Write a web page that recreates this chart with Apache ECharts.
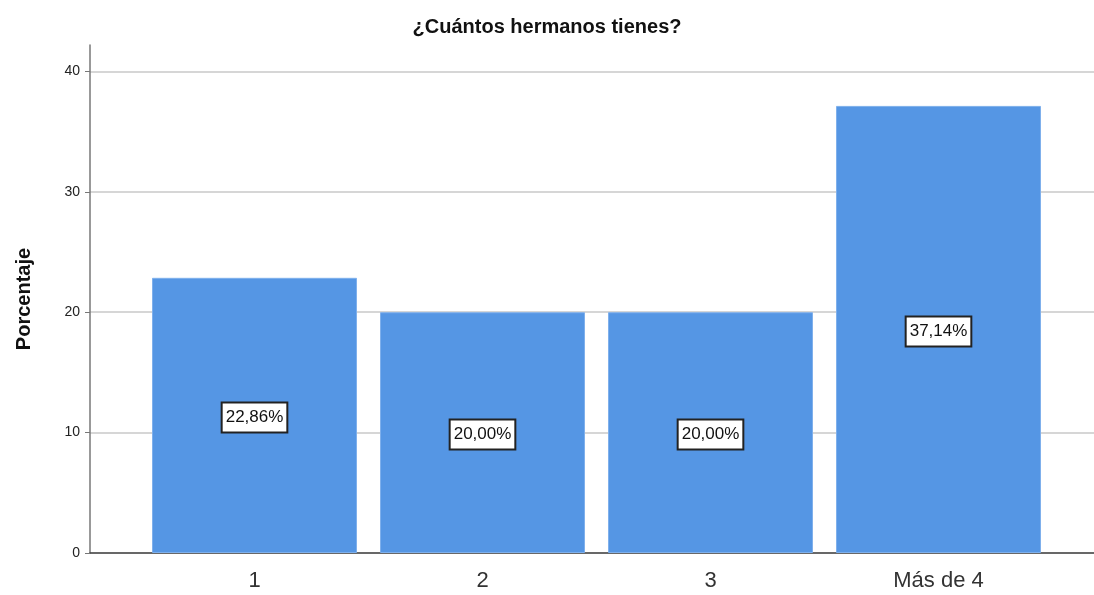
<!DOCTYPE html>
<html><head><meta charset="utf-8">
<script src="https://cdn.jsdelivr.net/npm/echarts@6/dist/echarts.min.js"></script>
<style>html,body{margin:0;padding:0;background:#fff}#c{width:1094px;height:595px}</style>
</head><body><div id="c"></div>
<script>
const categories = ['1', '2', '3', 'Más de 4'];
const percentages = [22.86, 20.00, 20.00, 37.14];
const yTicks = [0, 10, 20, 30, 40];
const titleText = '¿Cuántos hermanos tienes?';
const yName = 'Porcentaje';

const FONT = '"Liberation Sans", Arial, sans-serif';
const YMAX = 42.2;
const chart = echarts.init(document.getElementById('c'));
chart.setOption({
  animation: false,
  title: {text: titleText, left: 'center', top: 12,
    textStyle: {fontFamily: FONT, fontSize: 20, fontWeight: 'bold', color: '#111'}},
  grid: [
    {left: 90, right: 0, top: 45, bottom: 42},
    {left: 140.5, right: 41.5, top: 45, bottom: 42}
  ],
  xAxis: [
    {type: 'value', gridIndex: 0, min: 0, max: 1, axisLabel: {show: false}, axisTick: {show: false},
      splitLine: {show: false}, axisLine: {show: true, onZero: false, lineStyle: {color: '#444', width: 1.5}}},
    {type: 'category', gridIndex: 1, data: categories, axisLine: {show: false}, axisTick: {show: false},
      axisLabel: {fontFamily: FONT, fontSize: 22, color: '#333', margin: 17}}
  ],
  yAxis: [
    {type: 'value', gridIndex: 0, min: 0, max: YMAX,
      name: yName, nameLocation: 'middle', nameGap: 56,
      nameTextStyle: {fontFamily: FONT, fontSize: 20, fontWeight: 'bold', color: '#111'},
      axisLine: {show: true, lineStyle: {color: '#777', width: 1.5}},
      axisTick: {show: true, length: 5, customValues: yTicks, lineStyle: {color: '#777'}},
      axisLabel: {fontFamily: FONT, fontSize: 14, color: '#222', margin: 10, customValues: yTicks},
      splitLine: {show: true, lineStyle: {color: '#d6d6d6', width: 2}}},
    {type: 'value', gridIndex: 1, min: 0, max: YMAX, show: false,
      splitLine: {show: false}}
  ],
  series: [{
    type: 'bar', xAxisIndex: 1, yAxisIndex: 1, data: percentages, barWidth: 205,
    itemStyle: {color: '#5596e4', borderColor: '#7fb0ec', borderWidth: 1},
    label: {show: true, position: 'inside', formatter: p => p.value.toFixed(2).replace('.', ',') + '%',
      fontFamily: FONT, fontSize: 17, color: '#111', backgroundColor: '#fff',
      borderColor: '#222', borderWidth: 2, padding: [6, 3, 5, 3], offset: [0, 2]}
  }]
});
</script></body></html>
